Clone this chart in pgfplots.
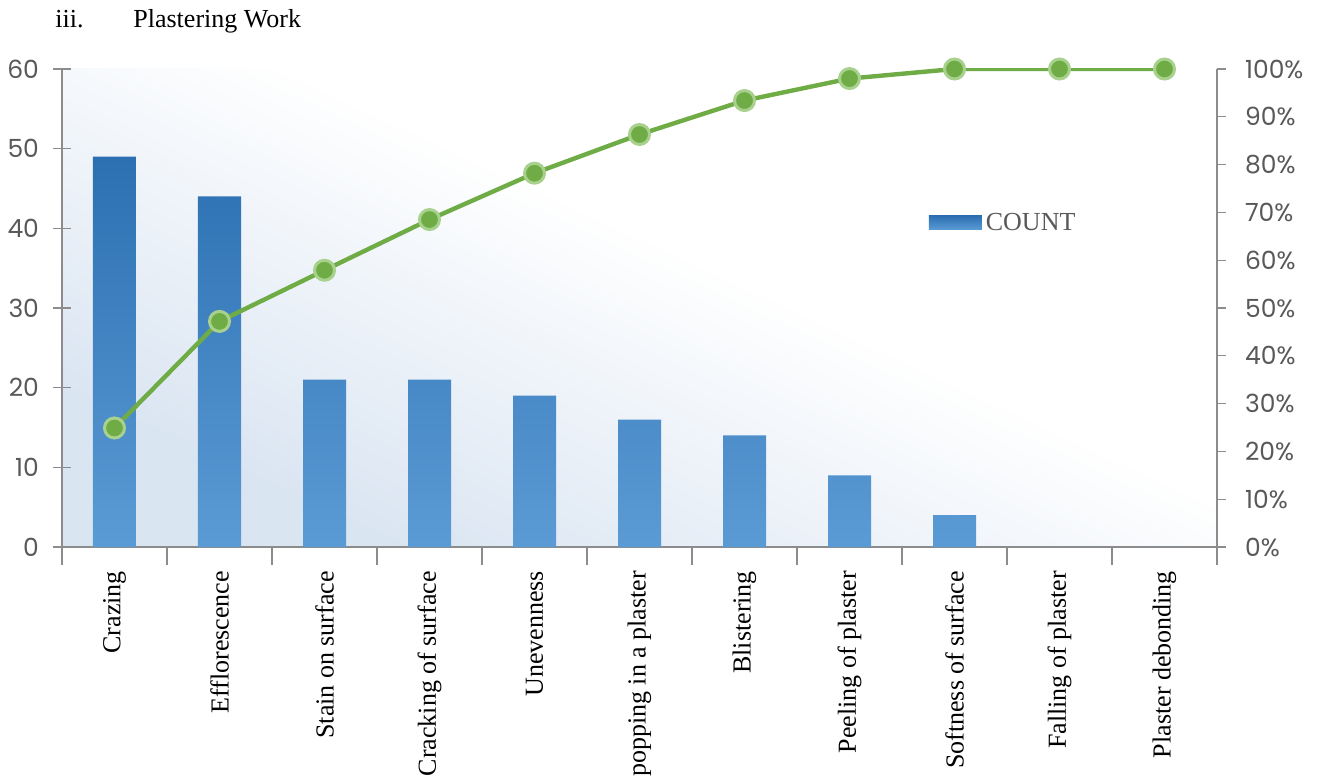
\documentclass[border=0pt]{standalone}
\usepackage{fontspec}
\setmainfont{Liberation Serif}
\newfontfamily\tickfont{Poppins}
\usepackage{pgfplots}
\pgfplotsset{compat=1.18}
\definecolor{barTop}{HTML}{2C70B2}
\definecolor{barBot}{HTML}{5B9BD5}
\definecolor{bgblue}{HTML}{DAE5F2}
\definecolor{axgray}{HTML}{8C8C8C}
\definecolor{txtgray}{HTML}{595959}
\definecolor{lineGreen}{HTML}{6FAC46}
\definecolor{markEdge}{HTML}{A9D18E}
\pgfdeclareverticalshading{bgshade}{100bp}{color(0bp)=(bgblue); color(27bp)=(bgblue); color(55bp)=(white); color(100bp)=(white)}
\begin{document}
\begin{tikzpicture}
\begin{axis}[
 scale only axis, width=577.5pt, height=239pt,
 xmin=-0.5, xmax=10.5, ymin=0, ymax=60,
 axis x line*=bottom, axis y line*=left,
 axis line style={axgray, line width=0.6pt, -},
 ytick={0,10,...,60},
 xtick={-0.5,0.5,...,10.5},
 xticklabels={},
 extra x ticks={0,1,...,10},
 extra x tick labels={Crazing,Efflorescence,Stain on surface,Cracking of surface,Unevenness,popping in a plaster,Blistering,Peeling of plaster,Softness of surface,Falling of plaster,Plaster debonding},
 extra x tick style={major tick length=0pt},
 tick style={axgray, line width=0.6pt},
 major tick length=9pt,
 tick align=center,
 /pgf/number format/assume math mode=true,
 yticklabel style={font=\tickfont\fontsize{12.5}{14}\selectfont, text=txtgray, xshift=-3.5pt},
 xticklabel style={rotate=90, anchor=east, font=\fontsize{13}{15}\selectfont, text=black, xshift=-8.5pt},
 ybar, bar width=21.5pt,
 axis background/.style={shading=bgshade, shading angle=-25},
 legend style={draw=none, fill=none, at={(0.745,0.678)}, anchor=west, font=\fontsize{13}{15}\selectfont, text=txtgray},
 legend image code/.code={\shade[top color=barTop, middle color=barTop, bottom color=barBot] (0pt,-3.5pt) rectangle (26.5pt,3.5pt);},
]
\addplot[draw=none, top color=barTop, middle color=barTop, bottom color=barBot] coordinates {(0,49) (1,44) (2,21) (3,21) (4,19) (5,16) (6,14) (7,9) (8,4) (9,0) (10,0)};
\addlegendentry{COUNT}
\end{axis}
\begin{axis}[
 scale only axis, width=577.5pt, height=239pt,
 xmin=-0.5, xmax=10.5, ymin=0, ymax=100,
 axis x line=none, axis y line*=right,
 axis line style={axgray, line width=0.6pt, -},
 ytick={0,10,...,100},
 yticklabel={\pgfmathprintnumber{\tick}\%},
 /pgf/number format/assume math mode=true,
 tick style={axgray, line width=0.6pt},
 major tick length=4.5pt, tick align=outside,
 yticklabel style={font=\tickfont\fontsize{12.5}{14}\selectfont, text=txtgray, xshift=6pt},
]
\addplot[lineGreen, line width=2.2pt, mark=*, mark size=5pt, mark options={fill=lineGreen, draw=markEdge, line width=1.5pt}] coordinates {(0,24.9) (1,47.2) (2,57.9) (3,68.5) (4,78.2) (5,86.3) (6,93.4) (7,98.0) (8,100) (9,100) (10,100)};
\end{axis}
\node[anchor=base west, inner sep=0pt, font=\fontsize{13}{15}\selectfont] at (-3.5pt,259.5pt) {iii.};
\node[anchor=base west, inner sep=0pt, font=\fontsize{13}{15}\selectfont] at (35.5pt,259.5pt) {Plastering Work};
\pgfresetboundingbox
\path[use as bounding box] (-31pt,-117pt) rectangle (630pt,273.5pt);
\end{tikzpicture}
\end{document}
